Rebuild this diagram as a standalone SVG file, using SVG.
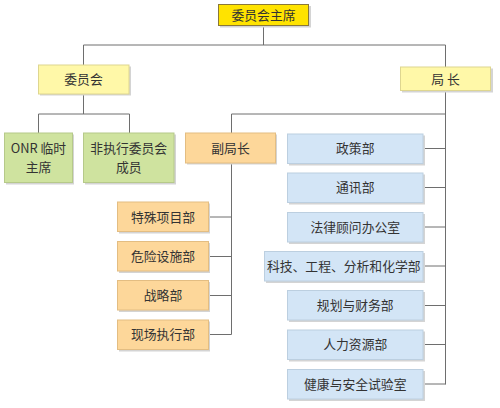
<svg xmlns="http://www.w3.org/2000/svg" width="500" height="408" viewBox="0 0 500 408">
<style>
text{font-family:"Noto Sans CJK SC","Noto Sans",sans-serif;font-size:12.8px;fill:#333;text-anchor:middle}
.sh{fill:#d4d4d4}
.top{fill:#ffe300;stroke:#8a7838;stroke-width:1}
.yl{fill:#fff8a8;stroke:#ded690;stroke-width:1}
.gr{fill:#cfe39f;stroke:#b6c98a;stroke-width:1}
.or{fill:#fdd79a;stroke:#e3bd82;stroke-width:1}
.bl{fill:#d3e5f6;stroke:#bccfe0;stroke-width:1}
.ln{fill:none;stroke:#6e6e6e;stroke-width:1}
</style>
<rect width="500" height="408" fill="#fff"/>
<g id="connectors">
<path class="ln" d="M263.5 26V45M83.5 45H445.5M83.5 45V65M445.5 45V67"/>
<path class="ln" d="M83.5 94V114M38.5 114H129.5M38.5 114V133M129.5 114V133"/>
<path class="ln" d="M445.5 91V384.5M231.5 114H445.5M231.5 114V133M231.5 163V334.5"/>
<path class="ln" d="M423 148.5H445.5M423 187.5H445.5M423 227H445.5M423 266H445.5M423 305.5H445.5M423 344.5H445.5M423 384H445.5"/>
<path class="ln" d="M208.5 217H231.5M208.5 256.5H231.5M208.5 295.5H231.5M208.5 334.5H231.5"/>
</g>
<g id="chair">
<rect class="sh" x="220" y="6" width="91" height="21.5"/>
<rect class="top" x="218.5" y="4.5" width="90" height="21"/>
<text x="263.5" y="19.5">委员会主席</text>
</g>
<g id="committee">
<rect class="sh" x="40" y="66.5" width="91" height="29"/>
<rect class="yl" x="38.5" y="65" width="90.5" height="29"/>
<text x="83.5" y="84">委员会</text>
</g>
<g id="director">
<rect class="sh" x="402" y="68.5" width="91" height="24"/>
<rect class="yl" x="400.5" y="67" width="90" height="23.5"/>
<text x="445.5" y="83.5">局 长</text>
</g>
<g id="onr">
<rect class="sh" x="6" y="134.5" width="68" height="50"/>
<rect class="gr" x="4.5" y="133" width="68" height="49.5"/>
<text x="38.5" y="152.5">ONR 临时</text>
<text x="38.5" y="172">主席</text>
</g>
<g id="nonexec">
<rect class="sh" x="85" y="134.5" width="91" height="50"/>
<rect class="gr" x="83.5" y="133" width="90.5" height="49.5"/>
<text x="128.75" y="152.5">非执行委员会</text>
<text x="128.75" y="172">成员</text>
</g>
<g id="deputy">
<rect class="sh" x="187" y="134.5" width="90" height="30"/>
<rect class="or" x="185.5" y="133" width="90" height="30"/>
<text x="230.5" y="152.5">副局长</text>
</g>
<g id="special">
<rect class="sh" x="119" y="203.5" width="91" height="30"/>
<rect class="or" x="117.5" y="202" width="91" height="29.5"/>
<text x="163" y="221.5">特殊项目部</text>
</g>
<g id="hazard">
<rect class="sh" x="119" y="243" width="91" height="30"/>
<rect class="or" x="117.5" y="241.5" width="91" height="29.5"/>
<text x="163" y="261">危险设施部</text>
</g>
<g id="strategy">
<rect class="sh" x="119" y="282" width="91" height="30"/>
<rect class="or" x="117.5" y="280.5" width="91" height="29.5"/>
<text x="163" y="300">战略部</text>
</g>
<g id="field">
<rect class="sh" x="119" y="321.5" width="91" height="30"/>
<rect class="or" x="117.5" y="320" width="91" height="29.5"/>
<text x="163" y="339">现场执行部</text>
</g>
<g id="policy">
<rect class="sh" x="289" y="135.5" width="136" height="30"/>
<rect class="bl" x="287.5" y="134" width="135.5" height="29.5"/>
<text x="355.25" y="153">政策部</text>
</g>
<g id="comms">
<rect class="sh" x="289" y="174.5" width="136" height="30"/>
<rect class="bl" x="287.5" y="173" width="135.5" height="29.5"/>
<text x="355.25" y="192">通讯部</text>
</g>
<g id="legal">
<rect class="sh" x="289" y="214" width="136" height="30"/>
<rect class="bl" x="287.5" y="212.5" width="135.5" height="29.5"/>
<text x="355.25" y="231.5">法律顾问办公室</text>
</g>
<g id="tech">
<rect class="sh" x="266" y="253" width="159" height="30"/>
<rect class="bl" x="264.5" y="251.5" width="158.5" height="29.5"/>
<text x="343.75" y="270.5">科技、工程、分析和化学部</text>
</g>
<g id="planning">
<rect class="sh" x="289" y="292" width="136" height="30"/>
<rect class="bl" x="287.5" y="290.5" width="135.5" height="29.5"/>
<text x="355.25" y="310">规划与财务部</text>
</g>
<g id="hr">
<rect class="sh" x="289" y="331.5" width="136" height="30"/>
<rect class="bl" x="287.5" y="330" width="135.5" height="29.5"/>
<text x="355.25" y="349">人力资源部</text>
</g>
<g id="health">
<rect class="sh" x="289" y="371" width="136" height="30"/>
<rect class="bl" x="287.5" y="369.5" width="135.5" height="29.5"/>
<text x="355.25" y="388.5">健康与安全试验室</text>
</g>
</svg>
